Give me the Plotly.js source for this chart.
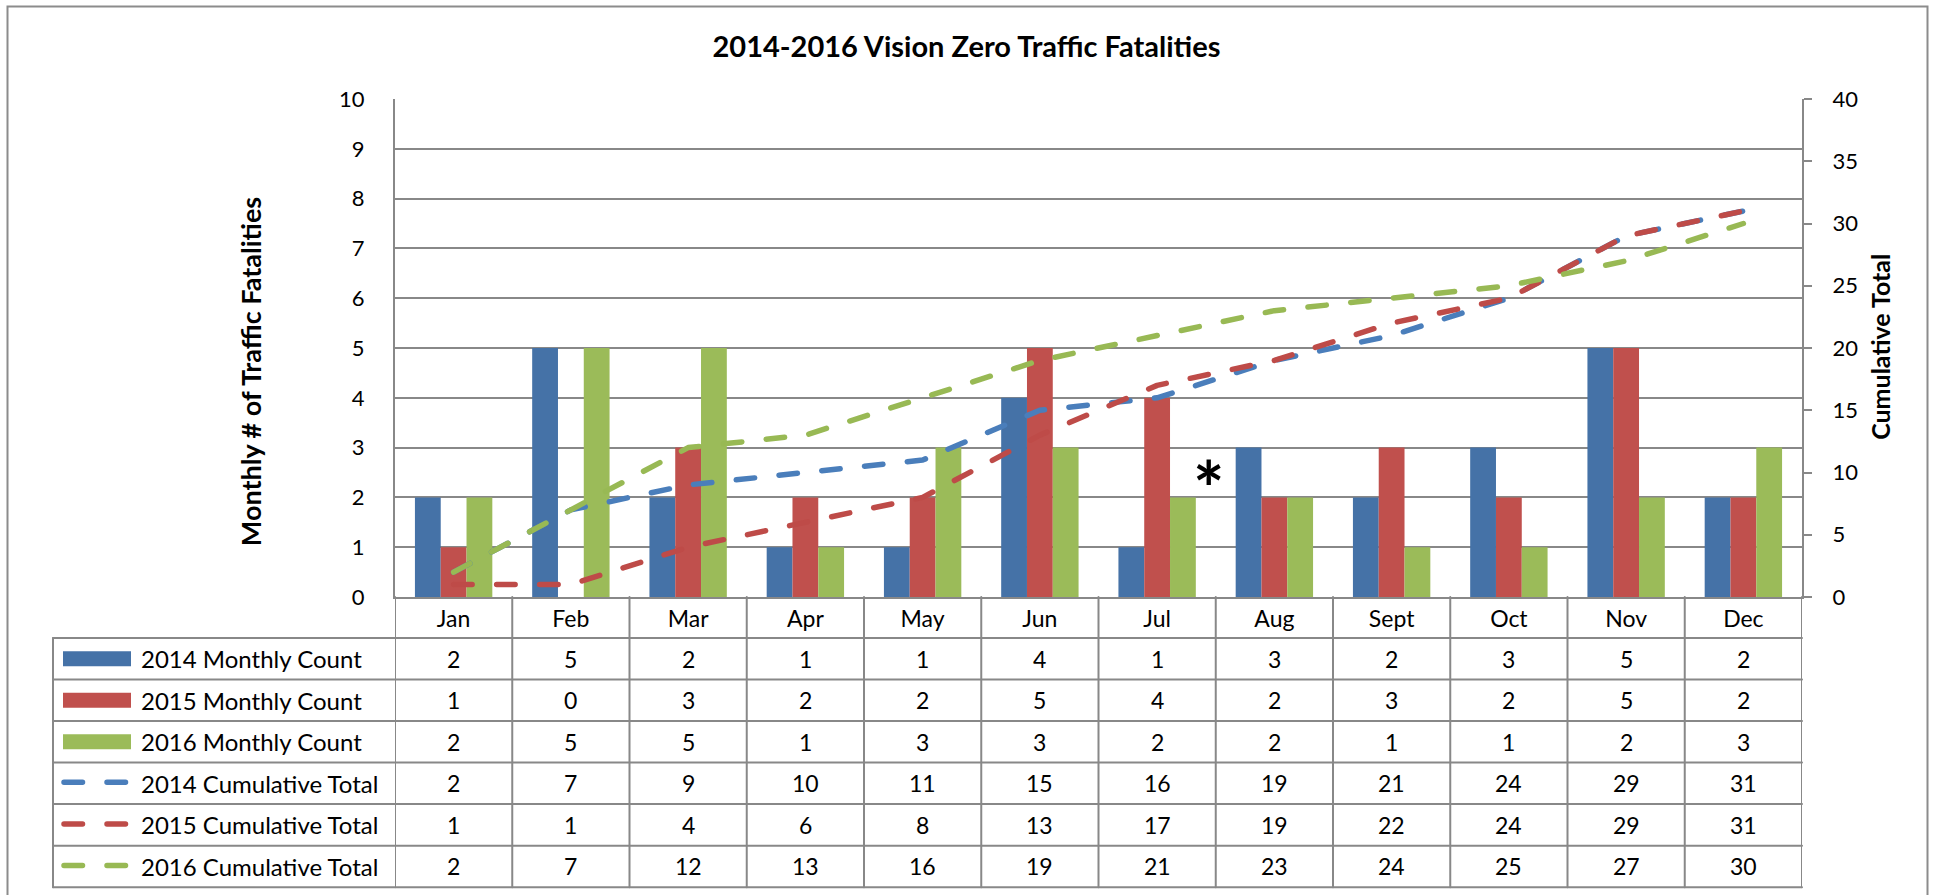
<!DOCTYPE html>
<html>
<head>
<meta charset="utf-8">
<script src="https://cdn.plot.ly/plotly-3.0.1.min.js"></script>
<style>
html,body{margin:0;padding:0;background:#fff;}
#chart{width:1933px;height:895px;}
.scatterlayer .js-line{stroke-linecap:round;stroke-linejoin:round;}
.shapelayer path{stroke-linecap:round;}
</style>
</head>
<body>
<div id="chart"></div>
<script>
// ---- data ----
const months = ['Jan','Feb','Mar','Apr','May','Jun','Jul','Aug','Sept','Oct','Nov','Dec'];
const monthly2014 = [2,5,2,1,1,4,1,3,2,3,5,2];
const monthly2015 = [1,0,3,2,2,5,4,2,3,2,5,2];
const monthly2016 = [2,5,5,1,3,3,2,2,1,1,2,3];
const cumulative2014 = [2,7,9,10,11,15,16,19,21,24,29,31];
const cumulative2015 = [1,1,4,6,8,13,17,19,22,24,29,31];
const cumulative2016 = [2,7,12,13,16,19,21,23,24,25,27,30];
const seriesNames = ['2014 Monthly Count','2015 Monthly Count','2016 Monthly Count',
                     '2014 Cumulative Total','2015 Cumulative Total','2016 Cumulative Total'];
const titleText = '2014-2016 Vision Zero Traffic Fatalities';
const leftTitle = 'Monthly # of Traffic Fatalities';
const rightTitle = 'Cumulative Total';
const noteMark = '*';

// ---- styles ----
const barColors = ['#4572A7','#C0504D','#9BBB59'];
const lineColors = ['#4A7EBB','#BE4B48','#98B954'];
const gridCol = '#888888';
const FONT = 'Lato, "Open Sans", sans-serif';

const W = 1933, H = 895;
const L = 395, R = 1802, T = 99, B = 596.7;
const pw = R - L, ph = B - T;
const px = x => (x - L) / pw;
const py = y => (B - y) / ph;

const rowTop = 637.7, rowH = 41.5;
const nRows = 6;
const tableLeft = 53, tableBottom = rowTop + rowH * nRows;
const lw = 5.5;
const dashPat = '18.5px,24.5px';

const traces = [];
const monthlySeries = [monthly2014, monthly2015, monthly2016];
const cumSeries = [cumulative2014, cumulative2015, cumulative2016];
monthlySeries.forEach((v, i) => {
  traces.push({type:'bar', x: months, y: v, name: seriesNames[i],
    marker:{color: barColors[i], line:{width:0}}, xaxis:'x', yaxis:'y', hoverinfo:'x+y+name'});
});
cumSeries.forEach((v, i) => {
  traces.push({type:'scatter', mode:'lines', x: months, y: v, name: seriesNames[i+3],
    line:{color: lineColors[i], width: lw, dash: dashPat}, xaxis:'x', yaxis:'y2'});
});

const shapes = [];
const annotations = [];
const lineStyle = {color: gridCol, width: 2};

// outer frame
shapes.push({type:'rect', xref:'paper', yref:'paper', x0: px(7.5), x1: px(1927.5), y0: py(6.5), y1: py(905),
  line:{color:'#8c8c8c', width:2}, fillcolor:'rgba(0,0,0,0)', layer:'below'});

// table horizontal lines
for (let r = 0; r <= nRows; r++) {
  const y = rowTop + r * rowH;
  shapes.push({type:'line', xref:'paper', yref:'paper', x0: px(tableLeft), x1: 1, y0: py(y), y1: py(y), line: lineStyle});
}
// table vertical lines
shapes.push({type:'line', xref:'paper', yref:'paper', x0: px(tableLeft), x1: px(tableLeft), y0: py(rowTop), y1: py(tableBottom), line: lineStyle});
for (let k = 0; k <= months.length; k++) {
  shapes.push({type:'line', xref:'x', yref:'paper', x0: k - 0.5, x1: k - 0.5, y0: 0, y1: py(tableBottom), line: lineStyle});
}

// legend swatches + labels + values
const allSeries = monthlySeries.concat(cumSeries);
for (let r = 0; r < nRows; r++) {
  const yc = rowTop + r * rowH + rowH / 2;
  if (r < 3) {
    shapes.push({type:'rect', xref:'paper', yref:'paper', x0: px(63), x1: px(131), y0: py(yc - 7.5), y1: py(yc + 7.5),
      fillcolor: barColors[r], line:{width:0}});
  } else {
    shapes.push({type:'line', xref:'paper', yref:'paper', x0: px(64), x1: px(126), y0: py(yc - 1), y1: py(yc - 1),
      line:{color: lineColors[r-3], width: lw, dash: dashPat}});
  }
  annotations.push({xref:'paper', yref:'paper', x: px(139), y: py(yc), xanchor:'left', yanchor:'middle',
    text: seriesNames[r], showarrow:false, font:{family: FONT, size: 24, color:'#000'}});
  allSeries[r].forEach((v, c) => {
    annotations.push({xref:'x', yref:'paper', x: c, y: py(yc), xanchor:'center', yanchor:'middle',
      text: String(v), showarrow:false, font:{family: FONT, size: 23, color:'#000'}});
  });
}

// axis titles
annotations.push({xref:'paper', yref:'paper', x: px(250), y: py(372), textangle:-90, xanchor:'center', yanchor:'middle',
  text: '<b>' + leftTitle + '</b>', showarrow:false, font:{family: FONT, size: 27, color:'#000'}});
annotations.push({xref:'paper', yref:'paper', x: px(1880), y: py(346.7), textangle:-90, xanchor:'center', yanchor:'middle',
  text: '<b>' + rightTitle + '</b>', showarrow:false, font:{family: FONT, size: 25, color:'#000'}});

// asterisk note between Jul and Aug
annotations.push({xref:'x', yref:'y', x: 6.437, y: 2.2, xanchor:'center', yanchor:'middle',
  text: '<b>' + noteMark + '</b>', showarrow:false, font:{family: FONT, size: 74, color:'#000'}});

const layout = {
  width: W, height: H,
  margin: {l: L, r: W - R, t: T, b: H - B, pad: 0},
  paper_bgcolor:'#fff', plot_bgcolor:'#fff',
  showlegend: false,
  barmode: 'group', bargap: 0.34, bargroupgap: 0,
  title: {text: '<b>' + titleText + '</b>', x: 0.5, xref:'container', y: 1 - 47/H, yref:'container',
    xanchor:'center', yanchor:'middle', font:{family: FONT, size: 29, color:'#000'}},
  font: {family: FONT, size: 22, color:'#000'},
  xaxis: {type:'category', range:[-0.5, 11.5], showgrid:false, zeroline:false,
    showline:true, linecolor: gridCol, linewidth:2, ticks:'', ticklabelstandoff: 0,
    tickfont:{family: FONT, size: 23, color:'#000'}, fixedrange:true},
  yaxis: {range:[0,10], dtick:1, showgrid:true, gridcolor: gridCol, gridwidth:2, zeroline:false,
    showline:true, linecolor: gridCol, linewidth:2, ticks:'', ticklabelstandoff: 24,
    tickfont:{family: FONT, size: 22, color:'#000'}, fixedrange:true},
  yaxis2: {range:[0,40], dtick:5, overlaying:'y', side:'right', showgrid:false, zeroline:false,
    showline:true, linecolor: gridCol, linewidth:2, ticks:'outside', ticklen:8, tickwidth:2, tickcolor: gridCol,
    ticklabelstandoff: 16, tickfont:{family: FONT, size: 22, color:'#000'}, fixedrange:true},
  shapes: shapes,
  annotations: annotations
};

Plotly.newPlot('chart', traces, layout, {displayModeBar:false, staticPlot:true});
</script>
</body>
</html>
